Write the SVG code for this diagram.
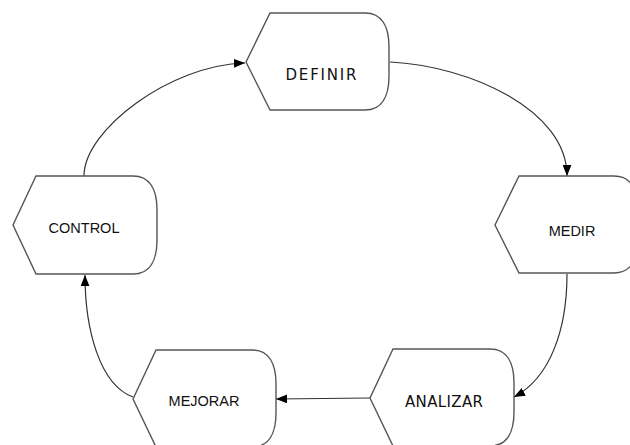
<svg xmlns="http://www.w3.org/2000/svg" width="630" height="445" viewBox="0 0 630 445">
<style>
.shape{fill:#fff;stroke:#555;stroke-width:1.4}
.conn{fill:none;stroke:#333;stroke-width:1.2}
.t1{font-family:"Liberation Sans",Arial,sans-serif;font-size:14.5px;fill:#111;text-anchor:middle}
.t2{font-family:"DejaVu Sans",Verdana,sans-serif;font-size:15px;fill:#111;text-anchor:middle}
</style>
<defs>
<marker id="ah" viewBox="0 0 10 8" refX="10" refY="4" markerWidth="11" markerHeight="9" markerUnits="userSpaceOnUse" orient="auto">
<path d="M0,0 L10,4 L0,8 Z" fill="#000"/>
</marker>
</defs>
<g id="connectors">
<path class="conn" marker-end="url(#ah)" d="M84,176 C84,130 170,65 245,63"/>
<path class="conn" marker-end="url(#ah)" d="M390,62 C470,66 567,110 567,176"/>
<path class="conn" marker-end="url(#ah)" d="M567,274 C567,330 550,378 514,397"/>
<path class="conn" marker-end="url(#ah)" d="M370,398 L276,399"/>
<path class="conn" marker-end="url(#ah)" d="M133,397 C100,385 85,330 85,275"/>
</g>
<g id="definir">
<path class="shape" d="M246,62 L270,13 L365,13 C382,13 389,27 389,47 L389,76 C389,96 382,110 365,110 L270,110 Z"/>
<text class="t2" x="321" y="80" textLength="71" lengthAdjust="spacing">DEFINIR</text>
</g>
<g id="medir">
<path class="shape" d="M495,225 L519,176 L614,176 C631,176 638,190 638,210 L638,239 C638,259 631,273 614,273 L519,273 Z"/>
<text class="t1" x="572" y="236">MEDIR</text>
</g>
<g id="control">
<path class="shape" d="M13,225 L36,176 L133,176 C150,176 157,190 157,210 L157,240 C157,260 150,274 133,274 L36,274 Z"/>
<text class="t1" x="84" y="233">CONTROL</text>
</g>
<g id="mejorar">
<path class="shape" d="M133,399 L156,350 L252,350 C269,350 276,364 276,384 L276,413 C276,433 269,447 252,447 L156,447 Z"/>
<text class="t1" x="204" y="406">MEJORAR</text>
</g>
<g id="analizar">
<path class="shape" d="M370,398 L393,349 L490,349 C507,349 514,363 514,383 L514,412 C514,432 507,446 490,446 L393,446 Z"/>
<text class="t2" x="444" y="407" textLength="78" lengthAdjust="spacing">ANALIZAR</text>
</g>
</svg>
